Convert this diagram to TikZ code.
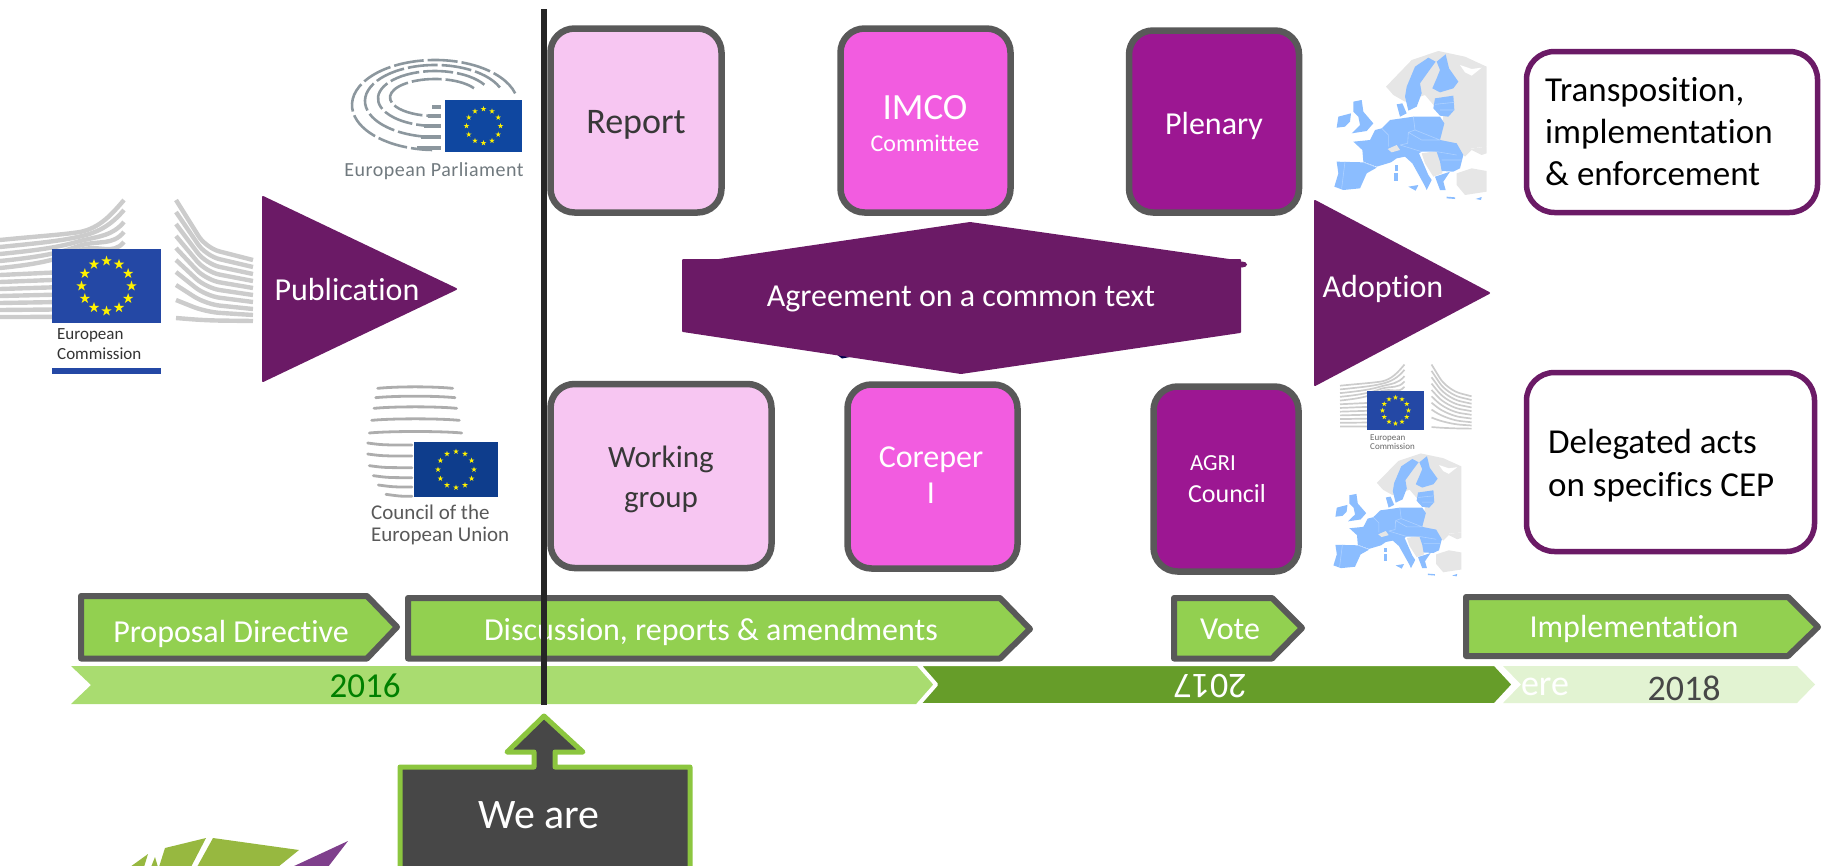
\documentclass[tikz,border=0pt]{standalone}
\usepackage{fontspec}
\setmainfont{Carlito}[Ligatures=NoCommon]
\definecolor{pinkA}{HTML}{F7C6F2}
\definecolor{pinkB}{HTML}{F25CE0}
\definecolor{pinkC}{HTML}{9C1792}
\definecolor{edgegray}{HTML}{595959}
\definecolor{plum}{HTML}{6B1A66}
\definecolor{leaf}{HTML}{92D050}
\definecolor{timeA}{HTML}{A9DC70}
\definecolor{timeB}{HTML}{669D29}
\definecolor{timeC}{HTML}{E2F3D2}
\definecolor{callout}{HTML}{474747}
\definecolor{calloutedge}{HTML}{8CC63F}
\definecolor{mapblue}{HTML}{8BBDFF}
\definecolor{mapgray}{HTML}{E6E6E6}
\definecolor{bldg}{HTML}{CCCCCC}
\definecolor{flagA}{HTML}{2448A5}
\definecolor{flagB}{HTML}{0F47A0}
\definecolor{flagC}{HTML}{0E3D8C}
\definecolor{hemigray}{HTML}{8C979E}
\definecolor{olive}{HTML}{97B840}
\definecolor{logopurple}{HTML}{7F3F8C}
\newcommand\fsz[1]{\fontsize{#1}{#1}\selectfont}
\tikzset{
 stagebox/.style={draw=edgegray,line width=6.5pt,rounded corners=24pt,inner sep=0pt,align=center},
 plumshape/.style={fill=plum,draw=plum,line width=2pt,line join=round},
 chev/.style={fill=leaf,draw=edgegray,line width=6pt,line join=round},
 lbl/.style={inner sep=0pt,align=center},
 wlbl/.style={lbl,text=white},
 llbl/.style={inner sep=0pt,align=left,anchor=west,text=black},
 endbox/.style={draw=plum,line width=5.5pt,rounded corners=28pt,fill=white},
 bline/.style={bldg,line width=4.4pt},
 cline/.style={line width=2.8pt,color=black!32,line cap=round},
 hemi/.style={line width=2.6pt,color=hemigray,dash pattern=on 30pt off 4pt},
}
\newcommand\euflag[7]{%
 \fill[#7] (#1-#3,#2-#4) rectangle (#1+#3,#2+#4);
 \foreach \a in {0,30,...,330}{
  \fill[yellow,shift={(#1,#2)},shift={(\a:#5)},scale=#6]
   (0,-1)--(.225,-.309)--(.951,-.309)--(.363,.118)--(.588,.809)--(0,.382)--(-.588,.809)--(-.363,.118)--(-.951,-.309)--(-.225,-.309)--cycle;
 }}
\newcommand\ecbuild[1]{%
 \begin{scope}[#1]
 \foreach \i/\e in {0/200,1/210,2/222,3/232,4/242}{
  \draw[bline] (0,240+\i*7) .. controls (40,236+\i*7) and (60,235+\i*6) .. (80,232+\i*4.5) .. controls (100,228+\i*4) and (112,\e+14) .. (124,\e);
 }
 \foreach \i in {0,...,6}{ \draw[bline] (0,275+\i*7) -- (54,272.5+\i*7.4); }
 \foreach \s/\e in {200/260,212/267,224/274,236/281,248/288,260/295,272/302,285/309,300/315,318/321}{
  \draw[bline,rounded corners=14pt] (176,\s) -- (206,\s*.2+\e*.8) -- (253,\e);
 }
 \end{scope}}
\newcommand\eumap[1]{%
 \begin{scope}[#1]
 \fill[mapgray] (183,125)--(260,45)--(340,18)--(420,35)--(485,65)--(485,305)--(440,310)--(415,330)--(340,290)--(355,215)--(300,150)--(240,170)--(205,150)--cycle;
 \fill[white] (405,60)--(440,72)--(470,68)--(440,92)--(420,82)--cycle;
 \fill[mapgray] (290,325)--(335,318)--(352,350)--(352,385)--(325,395)--(300,355)--cycle;
 \fill[mapgray] (395,385)--(440,370)--(485,378)--(485,440)--(420,450)--(395,420)--cycle;
 \fill[mapgray] (415,330)--(430,312)--(485,305)--(485,325)--(470,330)--(440,315)--(420,335)--cycle;
 \fill[mapblue] (245,125)--(270,65)--(310,38)--(332,50)--(310,80)--(285,115)--(290,145)--(275,185)--(250,197)--(240,155)--cycle;
 \fill[mapblue] (335,50)--(362,28)--(372,70)--(400,110)--(385,130)--(345,142)--(322,130)--(335,100)--(345,75)--cycle;
 \fill[mapblue] (330,160)--(385,152)--(388,195)--(370,215)--(345,212)--(325,190)--cycle;
 \fill[mapblue] (215,178)--(232,175)--(245,205)--(225,215)--cycle;
 \fill[mapblue] (170,250)--(195,225)--(265,215)--(345,215)--(358,235)--(345,285)--(395,295)--(415,330)--(405,370)--(385,380)--(350,378)--(345,350)--(335,320)--(290,320)--(282,325)--(310,390)--(320,405)--(305,435)--(298,420)--(262,355)--(240,335)--(215,340)--(198,352)--(155,365)--(115,350)--(112,315)--(85,290)--(135,285)--(150,255)--cycle;
 \fill[mapgray] (188,312)--(215,300)--(225,315)--(200,322)--cycle;
 \fill[mapblue] (35,350)--(115,352)--(155,368)--(125,385)--(105,430)--(55,435)--(28,425)--(40,385)--cycle;
 \fill[mapblue] (85,170)--(110,165)--(115,200)--(145,235)--(125,258)--(80,265)--(105,240)--(100,215)--(85,200)--cycle;
 \fill[mapblue] (40,215)--(78,205)--(75,230)--(60,245)--(35,248)--cycle;
 \fill[mapblue] (210,360)--(219,360)--(219,378)--(210,378)--cycle;
 \fill[mapblue] (208,384)--(220,384)--(220,408)--(208,408)--cycle;
 \fill[mapblue] (250,425)--(280,420)--(272,437)--cycle;
 \fill[mapblue] (330,395)--(375,380)--(355,410)--(362,435)--(345,435)--cycle;
 \fill[mapblue] (365,455)--(390,457)--(390,462)--(365,460)--cycle;
 \fill[mapblue] (452,462)--(470,456)--(468,465)--cycle;
 \draw[white!30!mapblue,line width=.6pt] (265,215)--(270,255)--(250,262)--(248,295)--(225,300) (170,250)--(190,270)--(190,305) (270,255)--(345,285) (225,300)--(290,320) (250,262)--(290,285)--(345,285) (335,320)--(395,330) (350,345)--(410,345) (115,352)--(150,365) (60,350)--(50,430) (330,178)--(388,172) (345,195)--(388,195);
 \end{scope}}
\begin{document}
\begin{tikzpicture}[x=1pt,y=-1pt]
\useasboundingbox (0,0) rectangle (1825,865);
\clip (0,0) rectangle (1825,865);

% --- European Commission logo
\ecbuild{}
\euflag{106.5}{286}{54.5}{37}{25}{5.5}{flagA}
\node[lbl,anchor=west,text=black!80,align=left,font=\fsz{17}] (ectext) at (57,344) {European\\[3pt]Commission};
\fill[flagA] (52,368) rectangle (161,374);

% --- European Parliament logo
\foreach \cy/\rx/\ry/\st in {105/83/45/15,101/70/36/22,98.5/57/27.5/30,97.5/45/18.5/30}{
 \draw[hemi] (435,\cy) ++(\st:\rx pt and \ry pt) arc[start angle=\st,end angle=268,x radius=\rx pt,y radius=\ry pt];
}
\foreach \yy/\xx in {107/432,116/428,126/424,137/421,148/417}{ \fill[hemigray] (\xx,\yy-2.3) rectangle (441,\yy+2.3); }
\euflag{483.5}{126}{38.5}{26}{17}{2.9}{flagB}
\node[lbl,text=hemigray!80!black,font=\fsz{20}\addfontfeature{LetterSpace=2.5}] (eptext) at (434,171) {European Parliament};

% --- Council logo
\foreach \xa/\xb/\yy in {113/338/52,107/345/80,102/350/112,95/358/148,88/365/186}{
 \draw[cline] (340+\xa/3,370+\yy/3+1) .. controls (340+\xa/3+20,370+\yy/3-1) and (340+\xb/3-20,370+\yy/3-1) .. (340+\xb/3,370+\yy/3+1);
}
\foreach \xa/\yy in {83/222,83/255,88/290,100/320,115/348,138/376}{
 \draw[cline] (340+\xa/3,370+\yy/3-1) .. controls (340+\xa/3+15,370+\yy/3+1) .. (412,370+\yy/3+1);
}
\euflag{456}{469.5}{42}{27.5}{18}{3}{flagC}
\node[lbl,anchor=west,text=black!65,align=left,font=\fsz{21}] (cotext) at (371,525) {Council of the\\[1pt]European Union};

% --- small EC logo
\ecbuild{shift={(1340,258.5)},xscale=.52,yscale=.53,bline/.append style={line width=1.7pt}}
\euflag{1395.5}{410.5}{28.5}{19.5}{13}{2.7}{flagA}
\node[lbl,anchor=west,text=black!60,align=left,font=\fsz{9}] (ectexttwo) at (1370,442) {European\\Commission};

% --- maps
\eumap{shift={(1325,45)},scale=1/3}
\eumap{shift={(1325.6,448.5)},xscale=.28,yscale=.275}

% --- publication
\draw[plumshape] (263,197) -- (456,289) -- (263,381) -- cycle;
\node[wlbl,font=\fsz{32}] (pub) at (347,290) {Publication};

% --- stage boxes
\node[stagebox,fill=pinkA,minimum width=171pt,minimum height=184pt] (report) at (636,120.5) {};
\node[lbl,text=black!78,font=\fsz{36}] (reportt) at (636,125) {Report};
\node[stagebox,fill=pinkB,minimum width=170pt,minimum height=184pt] (imco) at (925.5,120.5) {};
\node[wlbl,font=\fsz{37}] (imcoa) at (925,108) {IMCO};
\node[wlbl,font=\fsz{24}] (imcob) at (925,143) {Committee};
\node[stagebox,fill=pinkC,minimum width=170pt,minimum height=182pt] (plenary) at (1214,121.5) {};
\node[wlbl,font=\fsz{32}] (plen) at (1214,126) {Plenary};
\node[stagebox,fill=pinkA,minimum width=221pt,minimum height=184pt] (wg) at (661,476) {};
\node[lbl,text=black!78,font=\fsz{31}] (wgt) at (661,479) {Working\\[9pt]group};
\node[stagebox,fill=pinkB,minimum width=170pt,minimum height=184pt] (cor) at (932.5,476.5) {};
\node[wlbl,font=\fsz{32}] (cora) at (931,460) {Coreper};
\node[wlbl,font=\fsz{32}] (corb) at (931,493) {I};
\node[stagebox,fill=pinkC,minimum width=145pt,minimum height=185pt] (agri) at (1226,479) {};
\node[wlbl,font=\fsz{23}] (agria) at (1213,463) {AGRI};
\node[wlbl,font=\fsz{26}] (agrib) at (1227,494) {Council};

% --- agreement hexagon
\fill[black!50!blue!60!black] (836,354) -- (850,357) -- (842,358.5) -- cycle;
\draw[plumshape] (683,260) -- (719,260) -- (970,223) -- (1229,260) -- (1240,260) -- (1240,332) -- (961,373) -- (683,331) -- cycle;
\fill[plum] (1242,264.5) ellipse (5 and 3);
\node[wlbl,font=\fsz{32}] (agree) at (961,299) {Agreement on a common text};

% --- adoption
\draw[plumshape] (1315,201) -- (1489,293) -- (1315,385) -- cycle;
\node[wlbl,font=\fsz{32}] (adopt) at (1383,289) {Adoption};

% --- right boxes
\node[endbox,minimum width=291pt,minimum height=161pt] (tr) at (1672,132) {};
\node[llbl,font=\fsz{35}] (trt) at (1545,132) {Transposition,\\[7pt]implementation\\[7pt]\& enforcement};
\node[endbox,minimum width=288pt,minimum height=179pt] (de) at (1670.5,462) {};
\node[llbl,font=\fsz{35}] (det) at (1548,466) {Delegated acts\\[8pt]on specifics CEP};

% --- timeline
\fill[timeC] (1503,666) -- (1797,666) -- (1815,684.5) -- (1797,703) -- (1503,703) -- (1521,684.5) -- cycle;
\fill[timeA] (71,666) -- (918,666) -- (936,684.5) -- (918,704) -- (71,704) -- (91,685) -- cycle;
\draw[white,line width=4pt,fill=timeB,line join=round] (918,664) -- (1495,664) -- (1514,684.5) -- (1495,705) -- (918,705) -- (936,684.5) -- cycle;
\node[lbl,text=green!50!black,font=\fsz{35}] (ya) at (365,686) {2016};
\node[lbl,text=white,rotate=180,font=\fsz{36}] (yb) at (1210,686) {2017};
\node[lbl,text=white,font=\fsz{36}] (yh) at (1545,687) {ere};
\node[lbl,text=black!72,font=\fsz{36}] (yc) at (1684,688) {2018};

% --- chevrons
\draw[chev] (81,596) -- (367,596) -- (397,627) -- (367,658.5) -- (81,658.5) -- cycle;
\draw[chev] (408,598) -- (1000,598) -- (1030,629) -- (1000,658.5) -- (408,658.5) -- cycle;
\draw[chev] (1174,598) -- (1272,598) -- (1302,628) -- (1272,658.5) -- (1174,658.5) -- cycle;
\draw[chev] (1466,597) -- (1788,597) -- (1818,627) -- (1788,656) -- (1466,656) -- cycle;
\node[wlbl,font=\fsz{32}] (cp) at (231,634) {Proposal Directive};
\node[wlbl,font=\fsz{32}] (cd) at (711,632) {Discussion, reports \& amendments};
\node[wlbl,font=\fsz{32}] (cv) at (1230,629) {Vote};
\node[wlbl,font=\fsz{32}] (ci) at (1634,629) {Implementation};

% --- now line
\coordinate (nowtop) at (544,9);
\coordinate (nowend) at (544,705);
\draw[line width=6pt,black!85] (nowtop) -- (nowend);

% --- we are
\draw[fill=callout,draw=calloutedge,line width=5pt,line join=round] (400,767) -- (534,767) -- (534,752) -- (507,752) -- (544,716) -- (583,752) -- (555,752) -- (555,767) -- (690,767) -- (690,880) -- (400,880) -- cycle;
\node[wlbl,font=\fsz{42}] (we) at (539,815) {We are};

% --- logo fragments
\fill[olive] (213,838) -- (299,850) -- (278,867) -- (197,867) -- cycle;
\fill[olive] (165,848) -- (206,838) -- (191,867) -- (159,867) -- cycle;
\fill[olive] (148,854) -- (130,867) -- (144,867) -- cycle;
\fill[olive] (155,857) -- (151,867) -- (158,867) -- cycle;
\fill[logopurple] (348,841) -- (292,867) -- (328,867) -- cycle;
\end{tikzpicture}
\end{document}
